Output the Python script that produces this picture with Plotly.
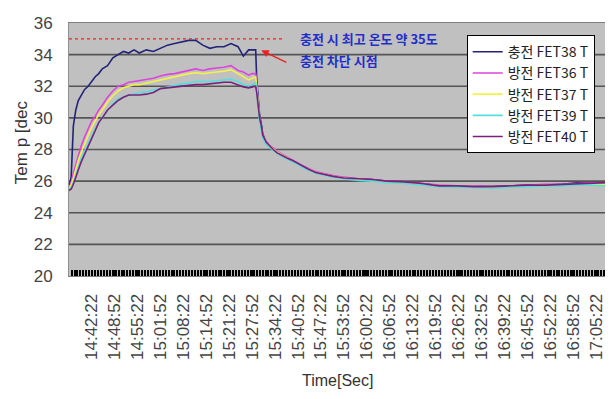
import pandas as pd
import plotly.graph_objects as go

# ---- data ----
times = [
    "14:35:52", "14:36:34", "14:37:10", "14:37:52", "14:38:34", "14:39:22", "14:40:22", "14:41:22",
    "14:42:22", "14:43:22", "14:44:22", "14:45:22", "14:46:52", "14:48:22", "14:49:52", "14:51:22",
    "14:52:52", "14:54:22", "14:55:52", "14:57:52", "14:59:52", "15:01:52", "15:03:52", "15:05:52",
    "15:07:52", "15:09:52", "15:11:52", "15:13:52", "15:15:52", "15:17:52", "15:19:52", "15:21:52",
    "15:23:52", "15:25:22", "15:26:52", "15:27:52", "15:28:52", "15:29:10", "15:29:34", "15:29:58",
    "15:30:28", "15:30:52", "15:31:52", "15:32:52", "15:33:52", "15:34:52", "15:36:22", "15:37:52",
    "15:39:22", "15:40:52", "15:42:22", "15:43:52", "15:45:52", "15:47:52", "15:50:52", "15:53:52",
    "15:57:52", "16:01:52", "16:05:52", "16:10:52", "16:15:52", "16:20:52", "16:25:52", "16:30:52",
    "16:35:52", "16:40:52", "16:45:52", "16:50:52", "16:55:52", "16:59:52", "17:03:52", "17:08:10",
]

fet38 = [
    25.5, 26.3, 29.5, 30.5, 31.1, 31.4, 31.8, 32.0,
    32.3, 32.6, 32.8, 33.1, 33.3, 33.8, 34.0, 34.2,
    34.1, 34.3, 34.1, 34.3, 34.2, 34.4, 34.6, 34.7,
    34.8, 34.9, 34.9, 34.6, 34.4, 34.5, 34.5, 34.7,
    34.5, 33.9, 34.3, 34.3, 34.3, 32.4, 31.0, 30.2,
    29.6, 29.0, 28.4, 28.2, 28.0, 27.8, 27.6, 27.45,
    27.3, 27.1, 26.9, 26.75, 26.55, 26.45, 26.3, 26.2,
    26.15, 26.1, 26.0, 25.95, 25.85, 25.7, 25.7, 25.65,
    25.65, 25.7, 25.75, 25.75, 25.8, 25.9, 25.9, 25.9,
]

fet36 = [
    25.5, 25.9, 26.5, 27.1, 27.6, 28.2, 28.8, 29.3,
    29.8, 30.1, 30.5, 30.8, 31.3, 31.7, 32.0, 32.1,
    32.25, 32.3, 32.35, 32.45, 32.5, 32.65, 32.75, 32.8,
    32.9, 33.0, 33.1, 33.0, 33.1, 33.15, 33.2, 33.3,
    33.0, 32.9, 32.7, 32.8, 32.8, 32.0, 30.8, 30.0,
    29.4, 28.9, 28.5, 28.25, 28.1, 27.9, 27.7, 27.5,
    27.35, 27.15, 26.95, 26.8, 26.6, 26.5, 26.35, 26.25,
    26.15, 26.1, 26.0, 25.95, 25.85, 25.75, 25.7, 25.7,
    25.65, 25.7, 25.75, 25.8, 25.8, 25.85, 25.9, 25.85,
]

fet37 = [
    25.5, 25.8, 26.2, 26.8, 27.3, 27.8, 28.4, 28.9,
    29.4, 29.8, 30.2, 30.5, 31.0, 31.4, 31.7, 31.9,
    32.0, 32.1, 32.1, 32.2, 32.3, 32.4, 32.5, 32.6,
    32.7, 32.8, 32.85, 32.8, 32.85, 32.9, 32.95, 33.05,
    32.8, 32.6, 32.4, 32.5, 32.6, 31.9, 30.7, 29.9,
    29.3, 28.8, 28.4, 28.2, 28.05, 27.85, 27.65, 27.45,
    27.3, 27.1, 26.9, 26.75, 26.55, 26.45, 26.3, 26.2,
    26.1, 26.05, 25.95, 25.9, 25.8, 25.7, 25.65, 25.65,
    25.6, 25.65, 25.7, 25.75, 25.75, 25.8, 25.8, 25.8,
]

fet39 = [
    25.5, 25.6, 25.9, 26.4, 26.9, 27.4, 27.9, 28.4,
    28.9, 29.3, 29.7, 30.0, 30.5, 30.9, 31.2, 31.35,
    31.45, 31.5, 31.6, 31.65, 31.75, 31.85, 31.95, 32.05,
    32.15, 32.2, 32.3, 32.3, 32.3, 32.35, 32.4, 32.45,
    32.3, 32.1, 32.0, 32.1, 32.2, 31.7, 30.6, 29.8,
    29.2, 28.7, 28.3, 28.1, 27.95, 27.75, 27.55, 27.4,
    27.25, 27.05, 26.85, 26.7, 26.5, 26.4, 26.25, 26.15,
    26.05, 26.0, 25.9, 25.85, 25.75, 25.65, 25.6, 25.6,
    25.55, 25.6, 25.65, 25.7, 25.7, 25.75, 25.75, 25.7,
]

fet40 = [
    25.4, 25.5, 25.8, 26.2, 26.7, 27.2, 27.7, 28.2,
    28.7, 29.3, 29.7, 30.0, 30.5, 30.8, 31.1, 31.3,
    31.45, 31.45, 31.45, 31.5, 31.6, 31.85, 31.9, 31.95,
    32.0, 32.05, 32.1, 32.1, 32.15, 32.2, 32.25, 32.25,
    32.1, 31.95, 31.9, 31.95, 32.0, 31.6, 30.7, 30.0,
    29.5, 28.9, 28.45, 28.2, 28.0, 27.8, 27.6, 27.45,
    27.3, 27.1, 26.9, 26.75, 26.55, 26.45, 26.3, 26.2,
    26.15, 26.1, 26.0, 25.95, 25.85, 25.7, 25.7, 25.65,
    25.65, 25.7, 25.75, 25.75, 25.8, 25.85, 25.9, 25.9,
]

series_names = ["충전 FET38 T", "방전 FET36 T", "방전 FET37 T", "방전 FET39 T", "방전 FET40 T"]
series_values = [fet38, fet36, fet37, fet39, fet40]
series_colors = ["#23237a", "#dd44dd", "#f2f24a", "#55dede", "#7a2278"]

y_ticks = [20, 22, 24, 26, 28, 30, 32, 34, 36]
x_start, x_end = "14:35:56", "17:08:12"
first_tick = "14:42:22"
max_temp_line = 35

DAY = "2000-01-01 "
x = pd.to_datetime([DAY + t for t in times])

fig = go.Figure()
for name, vals, col in zip(series_names, series_values, series_colors):
    fig.add_trace(go.Scatter(x=x, y=vals, mode="lines", name=name,
                             line=dict(color=col, width=1.6)))

font_main = "Liberation Sans, Noto Sans CJK KR, Arial, sans-serif"
font_narrow = "Liberation Sans Narrow, Noto Sans CJK KR, Arial Narrow, sans-serif"

# the page body has an 8px default margin, so the figure is 8px smaller
fig.update_layout(
    width=605, height=391,
    margin=dict(l=61, r=6, t=8, b=123),
    paper_bgcolor="white",
    plot_bgcolor="#c0c0c0",
    font=dict(family=font_main, color="#333333"),
    showlegend=True,
    legend=dict(
        x=0.979, y=0.952, xanchor="right", yanchor="top",
        bgcolor="white", bordercolor="black", borderwidth=1,
        font=dict(size=14, color="#222222", family=font_narrow),
        itemwidth=30, tracegroupgap=0,
    ),
    xaxis=dict(
        type="date",
        range=[DAY + x_start, DAY + x_end],
        tick0=DAY + first_tick, dtick=390000,
        tickformat="%H:%M:%S", tickangle=-90,
        tickfont=dict(size=17, color="#444444"),
        ticks="inside", ticklen=6, tickcolor="black", tickwidth=1.5,
        minor=dict(ticks="inside", dtick=50000, ticklen=6, tickcolor="black", tickwidth=1.6, showgrid=False),
        showgrid=False, showline=True, linecolor="#808080", mirror=True,
        ticklabelstandoff=10,
    ),
    yaxis=dict(
        range=[20, 36], tickvals=y_ticks,
        tickfont=dict(size=17, color="#444444"),
        showgrid=False,
        showline=True, linecolor="#909090", mirror=True,
        zeroline=False, ticklabelstandoff=12,
        ticklabeloverflow="allow",
    ),
)

# horizontal gridlines (inner ticks only, as in the reference)
for v in y_ticks[1:-1]:
    fig.add_shape(type="line", xref="paper", yref="y", x0=0, x1=1, y0=v, y1=v,
                  line=dict(color="#555555", width=1.6), layer="below")

fig.add_shape(type="line", xref="paper", yref="y", x0=0, x1=0.401,
              y0=max_temp_line, y1=max_temp_line,
              line=dict(color="#ee2222", width=1.2, dash="dot"))

fig.add_annotation(text="<b>충전 시 최고 온도 약 35도</b>", xref="paper", yref="paper",
                   x=0.4257, y=0.938, xanchor="left", yanchor="middle", showarrow=False,
                   font=dict(size=13, color="#1f2fc8", family="Noto Sans CJK KR"))
fig.add_annotation(text="<b>충전 차단 시점</b>", xref="paper", yref="paper",
                   x=0.4257, y=0.85, xanchor="left", yanchor="middle", showarrow=False,
                   font=dict(size=13, color="#1f2fc8", family="Noto Sans CJK KR"))
fig.add_annotation(text="", xref="paper", yref="paper", x=0.358, y=0.892,
                   ax=26.6, ay=12.7, showarrow=True, arrowhead=2, arrowsize=1,
                   arrowwidth=1.5, arrowcolor="#ee2222")

fig.add_annotation(text="Tem p [dec", xref="paper", yref="paper", x=-0.087, y=0.53,
                   textangle=-90, showarrow=False, xanchor="center", yanchor="middle",
                   font=dict(size=17, color="#333333"))
fig.add_annotation(text="Time[Sec]", xref="paper", yref="paper", x=0.5, y=-0.4115,
                   showarrow=False, xanchor="center", yanchor="middle",
                   font=dict(size=16, color="#333333"))

fig.write_html("out.html")
